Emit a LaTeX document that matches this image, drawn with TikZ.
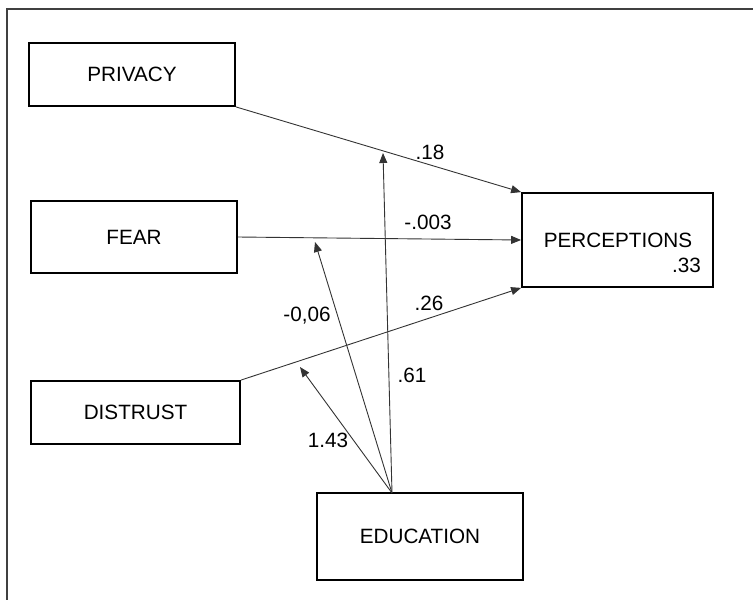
\documentclass[tikz,border=0pt]{standalone}
\usepackage{fontspec}
\setmainfont{Liberation Sans}
\usetikzlibrary{arrows.meta}
\definecolor{framegray}{HTML}{404040}
\definecolor{linegray}{HTML}{333333}
\begin{document}
\begin{tikzpicture}[x=1pt,y=-1pt,
  every node/.style={font=\fontsize{20.7}{24}\selectfont, inner sep=0pt},
  varbox/.style={draw=black, line width=1.8pt, rectangle, fill=white},
  path/.style={draw=linegray, line width=0.9pt, -{Triangle[length=10pt,width=8pt]}},
  coef/.style={text=black}]
  \useasboundingbox (0,0) rectangle (753,600);
  % outer frame (only top and left edges lie inside the page)
  \draw[framegray, line width=1.8pt] (7,600) -- (7,9) -- (753,9);

  % variables
  \node[varbox, minimum width=206pt, minimum height=63pt] (PRIVACY) at (132,74.5) {PRIVACY};
  \node[varbox, minimum width=206pt, minimum height=72pt] (FEAR) at (134,237) {FEAR};
  \node[varbox, minimum width=209pt, minimum height=63pt] (DISTRUST) at (135.5,412.5) {DISTRUST};
  \node[varbox, minimum width=191pt, minimum height=94pt] (PERCEPTIONS) at (617.5,240) {};
  \node (PERCLABEL) at (618,240) {PERCEPTIONS};
  \node[anchor=base east] (R2) at (701,272) {.33};
  \node[varbox, minimum width=206pt, minimum height=87pt] (EDUCATION) at (420,536.5) {EDUCATION};

  % direct paths
  \draw[path] (PRIVACY.south east) -- (PERCEPTIONS.north west);
  \draw[path] (FEAR.east) -- (PERCEPTIONS.west);
  \draw[path] (DISTRUST.north east) -- (PERCEPTIONS.south west);

  % moderation paths from education onto the direct paths
  \coordinate (EDTOP) at (392,493);
  \coordinate (MPRIV) at (383,153);
  \coordinate (MFEAR) at (315,242);
  \coordinate (MDIST) at (300,367);
  \draw[path] (EDTOP) -- (MPRIV);
  \draw[path] (EDTOP) -- (MFEAR);
  \draw[path] (EDTOP) -- (MDIST);

  % coefficients
  \node[coef] (C1) at (430,152) {.18};
  \node[coef] (C2) at (428,222) {-.003};
  \node[coef] (C3) at (429,303) {.26};
  \node[coef] (C4) at (307,316) {-0,06};
  \node[coef] (C5) at (412,375) {.61};
  \node[coef] (C6) at (328,440) {1.43};
\end{tikzpicture}
\end{document}
